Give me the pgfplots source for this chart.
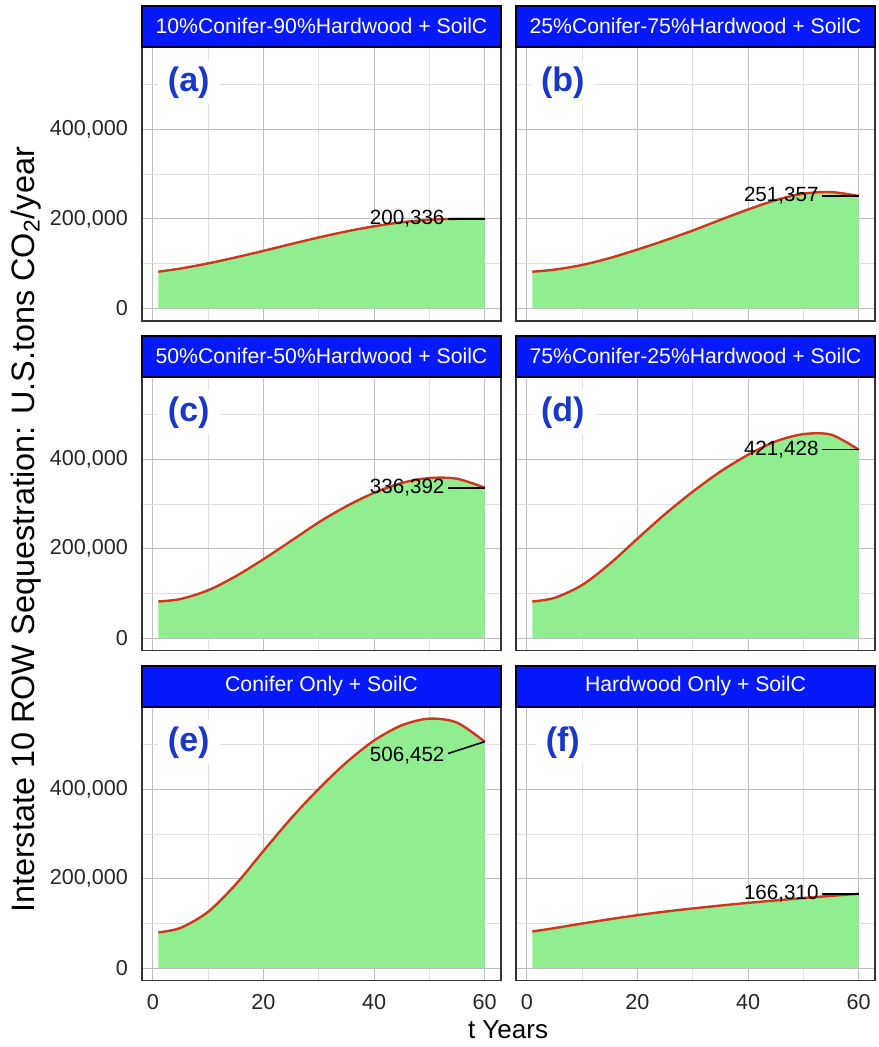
\documentclass[border=0pt]{standalone}
\usepackage{fontspec}
\setmainfont{Liberation Sans}
\usepackage{pgfplots}
\pgfplotsset{compat=1.18}
\usepackage{pgfplotstable}

\definecolor{stripblue}{RGB}{5,25,250}
\definecolor{areagreen}{RGB}{144,238,144}
\definecolor{linered}{RGB}{205,55,30}
\definecolor{letterblue}{RGB}{25,55,200}

\pgfplotstableread{
t v
1 82000
5 89000
10 100500
15 114000
20 128500
25 143800
30 158500
35 172000
40 183500
45 192500
50 198000
55 200300
60 200336
}\dataA
\pgfplotstableread{
t v
1 82000
5 86500
10 97000
15 112500
20 131500
25 152000
30 174000
35 198000
40 221000
45 242000
50 256500
55 260000
60 251357
}\dataB
\pgfplotstableread{
t v
1 82000
5 87500
10 107000
15 138500
20 176500
25 217500
30 259000
35 295000
40 325000
45 347000
50 358000
55 356500
60 336392
}\dataC
\pgfplotstableread{
t v
1 82000
5 90000
10 118750
15 166250
20 222500
25 277500
30 327500
35 372500
40 410000
45 440000
50 456250
55 455000
60 421428
}\dataD
\pgfplotstableread{
t v
1 80000
5 90000
10 126000
15 187500
20 262000
25 335000
30 401000
35 460000
40 509000
45 543000
50 558000
55 549000
60 506452
}\dataE
\pgfplotstableread{
t v
1 82000
5 89500
10 99800
15 109500
20 118500
25 126500
30 133500
35 140000
40 146000
45 151500
50 156800
55 161700
60 166310
}\dataF

\tikzset{
  letter/.style={font=\fontsize{17}{20}\selectfont\bfseries, text=letterblue, fill=white, inner xsep=5pt, inner ysep=3pt},
  numlab/.style={font=\fontsize{10.3}{12}\selectfont, anchor=east, inner sep=0pt},
}
\pgfplotsset{
  panel/.style={
    width=179.5pt, height=137pt, scale only axis, anchor=north west,
    xmin=-1.95, xmax=62.95, ymin=-27850, ymax=584850,
    xtick={0,20,40,60}, minor xtick={10,30,50},
    ytick={0,200000,400000}, minor ytick={100000,300000,500000},
    grid=both,
    major grid style={black!25, line width=0.5pt},
    minor grid style={black!12, line width=0.35pt},
    axis line style={black!80, line width=0.7pt},
    tick align=outside, tick pos=left,
    major tick length=3.5pt,
    every tick/.style={black!80, line width=0.6pt},
    tick label style={font=\fontsize{10.8}{12}\selectfont, text=black!85},
    xticklabels={}, yticklabels={},
    xtick style={draw=none}, ytick style={draw=none},
    clip=false,
  },
  ylab/.style={yticklabels={0,{200,000},{400,000}}, ytick style={black!80, line width=0.6pt}},
  xlab/.style={xticklabels={0,20,40,60}, xtick style={black!80, line width=0.6pt}},
}
\newcommand{\strip}[1]{%
  \draw[fill=stripblue, draw=black!85!blue, line width=1pt] (rel axis cs:0,1) rectangle ([yshift=20.5pt]rel axis cs:1,1);
  \node[text=white, inner sep=0pt, font=\fontsize{10.6}{12}\selectfont] at ([yshift=10.25pt]rel axis cs:0.5,1) {#1};
}
\newcommand{\panelplots}[1]{%
  \addplot[fill=areagreen, draw=none, smooth] table[x=t,y=v] {#1} \closedcycle;
  \addplot[linered, line width=1.2pt, smooth] table[x=t,y=v] {#1};
}

\begin{document}
\begin{tikzpicture}
\path[use as bounding box] (0,0) rectangle (439pt,-523.5pt);

% (a)
\begin{axis}[panel, ylab, at={(71pt,-23.4pt)}]
\panelplots{\dataA}
\addplot[black, line width=0.8pt] coordinates {(53.4,200336) (60,200336)};
\node[numlab] at (axis cs:52.8,200336) {200,336};
\node[letter] at (axis cs:6.5,505000) {(a)};
\strip{10\%Conifer-90\%Hardwood + SoilC}
\end{axis}

% (b)
\begin{axis}[panel, at={(258pt,-23.4pt)}]
\panelplots{\dataB}
\addplot[black, line width=0.8pt] coordinates {(53.4,251357) (60,251357)};
\node[numlab] at (axis cs:52.8,251357) {251,357};
\node[letter] at (axis cs:6.5,505000) {(b)};
\strip{25\%Conifer-75\%Hardwood + SoilC}
\end{axis}

% (c)
\begin{axis}[panel, ylab, at={(71pt,-188.3pt)}]
\panelplots{\dataC}
\addplot[black, line width=0.8pt] coordinates {(53.4,336392) (60,336392)};
\node[numlab] at (axis cs:52.8,336392) {336,392};
\node[letter] at (axis cs:6.5,505000) {(c)};
\strip{50\%Conifer-50\%Hardwood + SoilC}
\end{axis}

% (d)
\begin{axis}[panel, at={(258pt,-188.3pt)}]
\panelplots{\dataD}
\addplot[black, line width=0.8pt] coordinates {(53.4,421428) (60,421428)};
\node[numlab] at (axis cs:52.8,421428) {421,428};
\node[letter] at (axis cs:6.5,505000) {(d)};
\strip{75\%Conifer-25\%Hardwood + SoilC}
\end{axis}

% (e)
\begin{axis}[panel, ylab, xlab, at={(71pt,-353.3pt)}]
\panelplots{\dataE}
\addplot[black, line width=0.8pt] coordinates {(53.4,480000) (60,506452)};
\node[numlab] at (axis cs:52.8,475660) {506,452};
\node[letter] at (axis cs:6.5,505000) {(e)};
\strip{Conifer Only + SoilC}
\end{axis}

% (f)
\begin{axis}[panel, xlab, at={(258pt,-353.3pt)}]
\panelplots{\dataF}
\addplot[black, line width=0.8pt] coordinates {(53.4,166310) (60,166310)};
\node[numlab] at (axis cs:52.8,166310) {166,310};
\node[letter] at (axis cs:6.5,505000) {(f)};
\strip{Hardwood Only + SoilC}
\end{axis}

\node[rotate=90, font=\fontsize{16.2}{19}\selectfont] at (13pt,-265pt) {Interstate 10 ROW Sequestration: U.S.tons CO\textsubscript{2}/year};
\node[font=\fontsize{13}{16}\selectfont] at (254pt,-515pt) {t Years};
\end{tikzpicture}
\end{document}
